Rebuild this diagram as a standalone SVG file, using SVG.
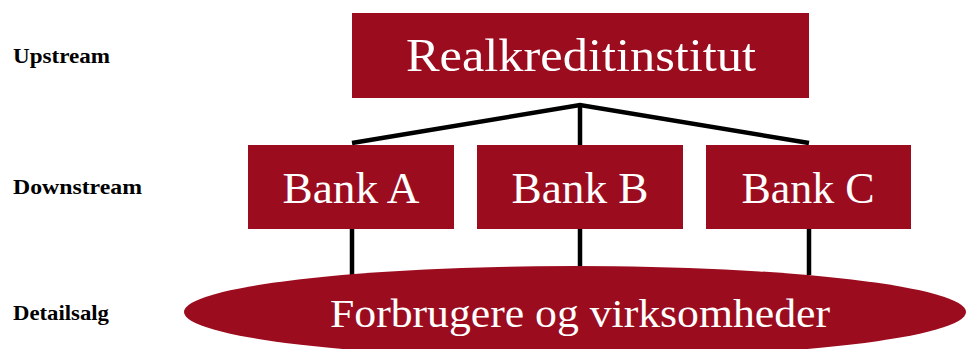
<svg xmlns="http://www.w3.org/2000/svg" width="966" height="349" viewBox="0 0 966 349">
<style>
.box{fill:#9c0c1f}
.lbl{font-family:"Liberation Serif","Times New Roman",serif;font-weight:bold;font-size:22px;fill:#000}
.nt{font-family:"Liberation Serif","Times New Roman",serif;fill:#fff;text-anchor:middle}
.con{stroke:#000;fill:none;stroke-width:4.5}
</style>
<rect width="966" height="349" fill="#fff"/>
<text class="lbl" x="13" y="63" textLength="97" lengthAdjust="spacingAndGlyphs">Upstream</text>
<text class="lbl" x="13" y="194" textLength="129" lengthAdjust="spacingAndGlyphs">Downstream</text>
<text class="lbl" x="13" y="320" textLength="96" lengthAdjust="spacingAndGlyphs">Detailsalg</text>
<g id="connectors">
<polyline class="con" points="352,143 580,105 809,143"/>
<line class="con" x1="580" y1="105" x2="580" y2="145" stroke-width="4"/>
<line class="con" x1="352" y1="229" x2="352" y2="275" stroke-width="4"/>
<line class="con" x1="580" y1="229" x2="580" y2="266" stroke-width="4"/>
<line class="con" x1="809" y1="229" x2="809" y2="275" stroke-width="4"/>
</g>
<g id="realkredit">
<rect class="box" x="352" y="13" width="457" height="85"/>
<text class="nt" x="581" y="71" font-size="46" textLength="350" lengthAdjust="spacingAndGlyphs">Realkreditinstitut</text>
</g>
<g id="bankA">
<rect class="box" x="248" y="145" width="206" height="84"/>
<text class="nt" x="351" y="203" font-size="44" textLength="137" lengthAdjust="spacingAndGlyphs">Bank A</text>
</g>
<g id="bankB">
<rect class="box" x="477" y="145" width="206" height="84"/>
<text class="nt" x="580" y="203" font-size="44" textLength="137" lengthAdjust="spacingAndGlyphs">Bank B</text>
</g>
<g id="bankC">
<rect class="box" x="706" y="145" width="205" height="84"/>
<text class="nt" x="808" y="203" font-size="44" textLength="133" lengthAdjust="spacingAndGlyphs">Bank C</text>
</g>
<g id="forbrugere">
<ellipse class="box" cx="575" cy="312" rx="391" ry="46"/>
<text class="nt" x="580" y="327" font-size="40" textLength="500" lengthAdjust="spacingAndGlyphs">Forbrugere og virksomheder</text>
</g>
</svg>
